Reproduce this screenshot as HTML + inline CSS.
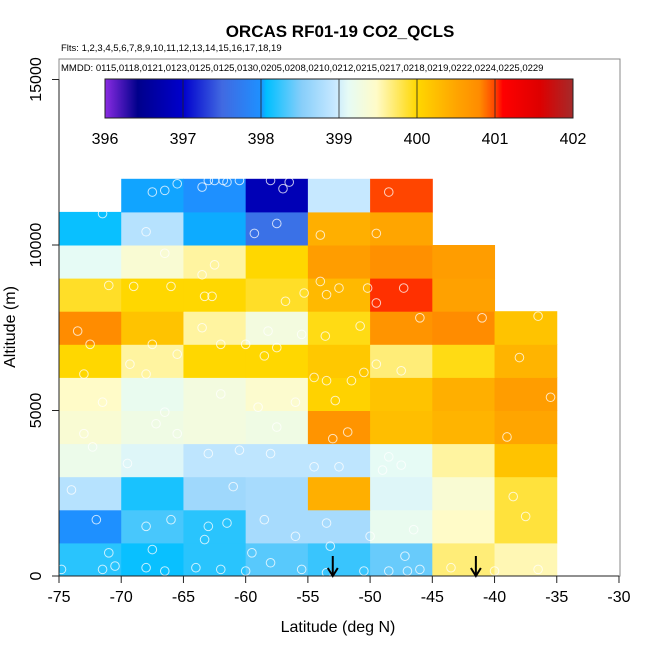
<!DOCTYPE html>
<html><head><meta charset="utf-8"><style>
html,body{margin:0;padding:0;background:#fff}
svg{display:block;font-family:"Liberation Sans",sans-serif}
</style></head><body>
<svg id="c" width="650" height="650" viewBox="0 0 650 650" xmlns="http://www.w3.org/2000/svg">
<defs>
<linearGradient id="cb" x1="0" x2="1" y1="0" y2="0">
<stop offset="0" stop-color="#8a2be2"/><stop offset="0.07" stop-color="#00008b"/><stop offset="0.167" stop-color="#0000cd"/>
<stop offset="0.25" stop-color="#4169e1"/><stop offset="0.333" stop-color="#1e90ff"/><stop offset="0.345" stop-color="#00bfff"/>
<stop offset="0.42" stop-color="#87cefa"/><stop offset="0.49" stop-color="#c6e8ff"/><stop offset="0.52" stop-color="#e6fbf5"/>
<stop offset="0.58" stop-color="#fffbc8"/><stop offset="0.667" stop-color="#ffd700"/><stop offset="0.75" stop-color="#ffa500"/>
<stop offset="0.8" stop-color="#ff8c00"/><stop offset="0.833" stop-color="#ff4500"/><stop offset="0.85" stop-color="#ff0000"/>
<stop offset="0.93" stop-color="#dd0000"/><stop offset="1" stop-color="#a52a2a"/>
</linearGradient>
</defs>
<g id="cells"></g>
<g id="pts"></g>
<rect x="59" y="59" width="561" height="517" fill="none" stroke="#888" stroke-width="1"/>
<g id="axes"></g>
<text x="340" y="37" text-anchor="middle" font-size="17" font-weight="bold">ORCAS RF01-19 CO2_QCLS</text>
<text x="61" y="51" font-size="9.5">Flts: 1,2,3,4,5,6,7,8,9,10,11,12,13,14,15,16,17,18,19</text>
<text x="61" y="71" font-size="9.5">MMDD: 0115,0118,0121,0123,0125,0125,0130,0205,0208,0210,0212,0215,0217,0218,0219,0222,0224,0225,0229</text>
<g id="cbar"></g>
<text x="338" y="632" text-anchor="middle" font-size="16">Latitude (deg N)</text>
<text transform="translate(15,327) rotate(-90)" text-anchor="middle" font-size="16">Altitude (m)</text>
</svg>
<script>
const latBins=[-75,-70,-65,-60,-55,-50,-45,-40];
const altBins=[0,1000,2000,3000,4000,5000,6000,7000,8000,9000,10000,11000];
// values[row][col], row 0 = 0-1000 m
const values=[
[398.2,398.1,398.2,398.35,398.25,398.4,399.7,399.55],
[398.0,398.3,398.2,398.7,398.7,399.15,399.5,399.85],
[398.8,398.15,398.65,398.7,400.4,399.05,399.4,399.85],
[399.2,399.05,398.85,398.85,398.85,399.1,399.6,400.2],
[399.4,399.25,399.3,399.25,400.7,400.25,400.35,400.5],
[399.5,399.15,399.3,399.45,400.05,400.2,400.4,400.6],
[400.0,399.6,400.0,400.0,400.15,399.7,399.95,400.35],
[400.8,400.2,399.6,399.3,399.95,400.7,400.8,400.2],
[399.9,400.0,400.0,399.9,400.3,401.05,400.55,null],
[399.1,399.4,399.6,400.0,400.6,400.75,400.6,null],
[398.1,398.8,398.04,397.6,400.4,400.5,null,null],
[null,398.03,398.0,396.8,398.9,401.0,null,null]];
const cbTicks=[396,397,398,399,400,401,402];
const xTicks=[-75,-70,-65,-60,-55,-50,-45,-40,-35,-30];
const yTicks=[0,5000,10000,15000];
const ptLat=[-66.5,-65.5,-63.5,-63,-62.5,-61.8,-61.5,-60.5,-58,-56.5,-57,-67.5,-57.5,-59.3,-48.5,-71.5,-68,-54,-49.5,-66.5,-62.5,-63.5,-71,-69,-66,-63.3,-62.7,-56.8,-55.3,-54,-53.5,-52.5,-50.2,-47.3,-49.5,-73.5,-72.5,-67.5,-63.5,-62,-60,-58.2,-57.5,-55.5,-53.6,-50.8,-46,-41,-36.5,-65.5,-58.5,-69.3,-73,-68,-54.5,-53.5,-52.8,-51.5,-50.5,-49.5,-47.5,-38,-35.5,-71.5,-66.5,-59,-56,-62,-73,-72.3,-67.2,-65.5,-60.5,-57.5,-53,-51.8,-48.5,-39,-74,-69.5,-63,-61,-58,-54.5,-52.5,-49,-47.5,-72,-68,-66,-63,-61.5,-58.5,-56,-53.5,-50,-46.5,-38.5,-37.5,-74.8,-71.5,-70.5,-68,-66.5,-64,-62,-60,-58,-55.5,-53.5,-50.5,-48.5,-47,-46,-43.5,-40,-36.5,-71,-67.5,-63.3,-59.5,-53.2,-47.2];
const ptAlt=[11650,11850,11750,11950,11950,11950,11900,11950,11950,11900,11700,11600,10650,10350,11600,10950,10400,10300,10350,9750,9400,9100,8780,8750,8750,8450,8450,8300,8550,8900,8500,8700,8700,8700,8250,7400,7000,7000,7500,7000,7000,7400,6900,7300,7250,7550,7800,7800,7850,6700,6650,6400,6100,6100,6000,5900,5300,5900,6150,6400,6200,6600,5400,5250,4950,5100,5250,5500,4300,3900,4600,4300,3800,4500,4150,4350,3600,4200,2600,3400,3700,2700,3700,3300,3300,3200,3350,1700,1500,1700,1500,1600,1700,1200,1600,1200,1400,2400,1800,200,200,300,250,150,250,200,150,400,200,100,150,150,150,200,250,150,200,700,800,1100,700,900,600];
const X=v=>59+(v+75)*12.444, Y=v=>576-v*0.0331;
const stops=[[396,'#8a2be2'],[396.42,'#00008b'],[397,'#0000cd'],[397.5,'#4169e1'],[398,'#1e90ff'],[398.07,'#00bfff'],[398.5,'#87cefa'],[398.9,'#c6e8ff'],[399.1,'#e6fbf5'],[399.5,'#fffbc8'],[400,'#ffd700'],[400.5,'#ffa500'],[400.8,'#ff8c00'],[401,'#ff4500'],[401.1,'#ff1a00'],[401.6,'#dd0000'],[402,'#a52a2a']];
function hx(c){return [1,3,5].map(i=>parseInt(c.substr(i,2),16));}
function col(v){for(let i=1;i<stops.length;i++){if(v<=stops[i][0]){const a=stops[i-1],b=stops[i];const t=(v-a[0])/(b[0]-a[0]);const p=hx(a[1]),q=hx(b[1]);return 'rgb('+p.map((x,k)=>Math.round(x+(q[k]-x)*t)).join(',')+')';}}return stops[stops.length-1][1];}
const NS='http://www.w3.org/2000/svg';
function mk(t,a,p){const e=document.createElementNS(NS,t);for(const k in a)e.setAttribute(k,a[k]);p.appendChild(e);return e;}
const cg=document.getElementById('cells');
values.forEach((row,r)=>row.forEach((v,c)=>{if(v===null)return;
const e=mk('rect',{x:X(latBins[c]),y:Y(altBins[r]+1000),width:X(latBins[c]+5)-X(latBins[c])+0.5,height:Y(altBins[r])-Y(altBins[r]+1000)+0.5,fill:col(v)},cg);

}));
const pg=document.getElementById('pts');
ptLat.forEach((la,i)=>{const e=mk('circle',{cx:X(la),cy:Y(ptAlt[i]),r:4.3,fill:'none',stroke:'rgba(255,255,255,0.75)','stroke-width':1},pg);

});
const ag=document.getElementById('axes');
mk('line',{x1:59,x2:X(-30),y1:576,y2:576,stroke:'#222','stroke-width':1},ag);
mk('line',{x1:59,x2:59,y1:Y(15000),y2:576,stroke:'#222','stroke-width':1},ag);
xTicks.forEach(t=>{mk('line',{x1:X(t),x2:X(t),y1:576,y2:583,stroke:'#222'},ag);
const e=mk('text',{x:X(t),y:602,'text-anchor':'middle','font-size':16},ag);e.textContent=t;

});
yTicks.forEach(t=>{mk('line',{x1:52,x2:59,y1:Y(t),y2:Y(t),stroke:'#222'},ag);
const e=mk('text',{transform:'translate(41,'+Y(t)+') rotate(-90)','text-anchor':'middle','font-size':16},ag);e.textContent=t;

});
[-53,-41.5].forEach(la=>{const a=mk('g',{},ag);


mk('line',{x1:X(la),x2:X(la),y1:556,y2:576,stroke:'#000','stroke-width':2},a);
mk('polyline',{points:(X(la)-5)+',568 '+X(la)+',576 '+(X(la)+5)+',568',fill:'none',stroke:'#000','stroke-width':2},a);});
const cb=document.getElementById('cbar');
const CB=v=>105+(v-396)*78;
mk('rect',{x:105,y:79,width:468,height:39,fill:'url(#cb)',stroke:'#222'},cb);
cbTicks.forEach(t=>{mk('line',{x1:CB(t),x2:CB(t),y1:79,y2:118,stroke:'#222','stroke-width':0.8},cb);
const e=mk('text',{x:CB(t),y:144,'text-anchor':'middle','font-size':16},cb);e.textContent=t;

});
</script>
</body></html>
